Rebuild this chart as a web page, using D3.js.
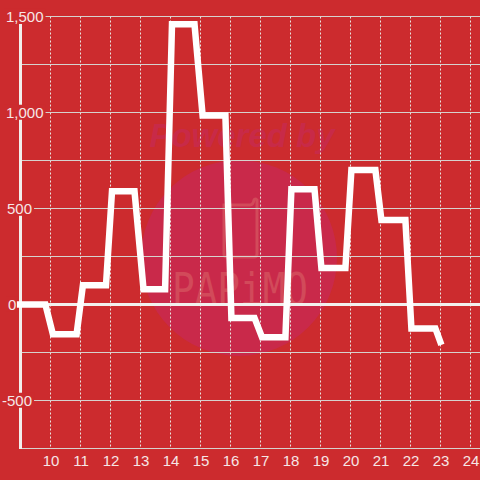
<!DOCTYPE html>
<html><head><meta charset="utf-8">
<script src="https://cdn.jsdelivr.net/npm/d3@7"></script>
<style>html,body{margin:0;padding:0;background:#cc2b2e}svg{display:block}text{font-family:"Liberation Sans",Arial,sans-serif}</style>
</head><body><div id="c"></div>
<script>
const hours=[8.88,9.83,10.08,10.87,11.08,11.85,12.05,12.8,13.1,13.82,14.05,14.8,15.07,15.83,16.03,16.8,17.05,17.83,18.03,18.8,19.03,19.83,20.03,20.83,21.03,21.83,22.03,22.83,23.03];
const values=[0,0,-155,-155,100,100,590,590,80,80,1460,1460,985,985,-70,-70,-170,-170,600,600,190,190,700,700,440,440,-125,-125,-210];
const xTicks=[10,11,12,13,14,15,16,17,18,19,20,21,22,23,24];
const yGrid=[1500,1250,1000,750,500,250,0,-250,-500];
const yLabels=["1,500","1,000","500","0","-500"];
const yLabelValues=[1500,1000,500,0,-500];
const W=480,H=480;
const x=d3.scaleLinear().domain([9,24]).range([20.5,470.5]);
const y=d3.scaleLinear().domain([0,500]).range([304.5,208.5]);
const svg=d3.select('#c').append('svg').attr('width',W).attr('height',H);
svg.append('rect').attr('width',W).attr('height',H).attr('fill','#cc2b2e');
// watermark
const wm=svg.append('g');
wm.append('circle').attr('cx',239).attr('cy',258).attr('r',98).attr('fill','#c9294a');
wm.append('text').attr('x',242).attr('y',147).attr('text-anchor','middle').attr('font-size',33)
  .attr('font-weight','bold').attr('font-style','italic').attr('fill','#c82a48').text('Powered by');
wm.append('path').attr('d','M224 205H250Q253 205 254 200Q255 198 257 200Q257 201 257 204V254Q257 257 254 257H227Q224 257 224 254Z')
  .attr('fill','none').attr('stroke','#d24a5a').attr('stroke-width',3);
wm.append('text').attr('x',240).attr('y',305).attr('text-anchor','middle').attr('font-size',45)
  .attr('textLength',136).attr('lengthAdjust','spacingAndGlyphs')
  .attr('fill','#d24a5a').style('font-family','"DejaVu Sans Mono",monospace').text('PAPiMO');
// vertical grid + x labels
const gx=svg.append('g').attr('transform','translate(0,448.5)')
  .call(d3.axisBottom(x).offset(0).tickValues(xTicks).tickFormat(d3.format('d')).tickSize(-432).tickPadding(3));
gx.select('.domain').remove();
gx.selectAll('line').attr('stroke','#e8e4e0').attr('stroke-dasharray','2,2').attr('y1',-2);
gx.selectAll('text').attr('fill','#f6e6e6').attr('font-size',15).attr('dy','0.95em').attr('dx','0.5');
gx.attr('font-family',null);
// horizontal grid
const gy=svg.append('g').attr('transform','translate(20,0)')
  .call(d3.axisRight(y).offset(0).tickValues(yGrid).tickSize(460).tickFormat(d=>''));
gy.select('.domain').remove();
gy.selectAll('line').attr('stroke',d=>d===0?'#f2f0ee':'#d6d2ce').attr('stroke-width',d=>d===0?3:1);
svg.append('line').attr('x1',20).attr('x2',480).attr('y1',448.5).attr('y2',448.5).attr('stroke','#d6d2ce');
// left axis bar
svg.append('line').attr('x1',20.5).attr('x2',20.5).attr('y1',24).attr('y2',449).attr('stroke','#f2efed').attr('stroke-width',3);
// y labels with red plates
const lab=svg.append('g').selectAll('g').data(yLabelValues).join('g');
lab.append('text').attr('x',d=>d<0?2:(d===0?8:(d>=1000?6:7))).attr('y',d=>y(d)).attr('dy','0.35em')
  .attr('font-size',15).attr('fill','#f6e6e6').text((d,i)=>yLabels[i]);
lab.each(function(){const b=this.querySelector('text').getBBox();
  d3.select(this).insert('rect','text').attr('x',b.x-2).attr('y',b.y+1).attr('width',b.width+4).attr('height',b.height-2).attr('fill','#cc2b2e');});
// series
const line=d3.line().x((d,i)=>x(hours[i])).y(d=>y(d));
svg.append('path').attr('d',line(values)).attr('fill','none').attr('stroke','#ffffff').attr('stroke-width',6.5).attr('stroke-linejoin','miter');
</script></body></html>
